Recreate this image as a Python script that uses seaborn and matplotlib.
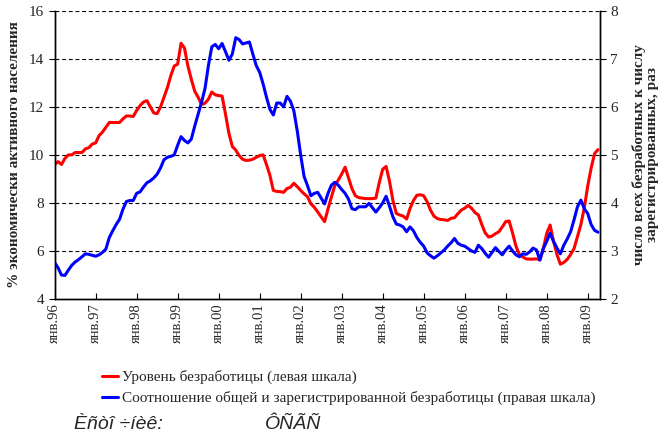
import matplotlib
matplotlib.use("Agg")
import matplotlib.pyplot as plt
import seaborn as sns
import pandas as pd
import numpy as np

# Monthly values, Jan 1996 .. Apr 2009
unemployment = [
    9.6, 9.72, 9.6, 9.85, 10.0, 10.0, 10.1, 10.1, 10.1, 10.25, 10.3, 10.45,
    10.5, 10.8, 10.95, 11.15, 11.35, 11.35, 11.35, 11.35, 11.5, 11.62, 11.62, 11.6,
    11.85, 12.05, 12.2, 12.26, 12.0, 11.75, 11.72, 12.0, 12.4, 12.8, 13.3, 13.7,
    13.78, 14.65, 14.45, 13.7, 13.15, 12.65, 12.4, 12.1, 12.15, 12.32, 12.62, 12.5,
    12.47, 12.45, 11.7, 10.9, 10.35, 10.2, 9.97, 9.82, 9.77, 9.78, 9.82, 9.9,
    9.97, 10.0, 9.6, 9.15, 8.52, 8.48, 8.47, 8.44, 8.6, 8.65, 8.82, 8.68,
    8.52, 8.38, 8.26, 7.96, 7.82, 7.62, 7.42, 7.22, 7.75, 8.25, 8.73, 8.95,
    9.2, 9.49, 9.05, 8.6, 8.3, 8.22, 8.2, 8.18, 8.18, 8.18, 8.2, 8.85,
    9.4, 9.52, 8.9, 8.1, 7.56, 7.5, 7.45, 7.33, 7.77, 8.1, 8.32, 8.34,
    8.3, 8.05, 7.7, 7.45, 7.35, 7.31, 7.3, 7.27, 7.36, 7.38, 7.55, 7.7,
    7.78, 7.9, 7.78, 7.6, 7.5, 7.1, 6.75, 6.58, 6.62, 6.72, 6.8, 7.0,
    7.22, 7.25, 6.75, 6.2, 5.85, 5.75, 5.67, 5.66, 5.66, 5.67, 5.63, 6.1,
    6.73, 7.08, 6.4, 5.85, 5.45, 5.52, 5.65, 5.85, 6.1, 6.6, 7.1, 7.8,
    8.7, 9.45, 10.05, 10.22,
]
ratio = [
    2.76, 2.65, 2.5, 2.49, 2.6, 2.7, 2.77, 2.82, 2.88, 2.94, 2.93, 2.91,
    2.89, 2.92, 2.97, 3.04, 3.28, 3.42, 3.55, 3.66, 3.87, 4.03, 4.05, 4.05,
    4.2, 4.23, 4.33, 4.42, 4.46, 4.52, 4.6, 4.73, 4.9, 4.95, 4.97, 5.0,
    5.2, 5.38, 5.3, 5.25, 5.33, 5.6, 5.85, 6.1, 6.38, 6.86, 7.25, 7.3,
    7.21, 7.32, 7.15, 6.97, 7.1, 7.44, 7.4, 7.31, 7.33, 7.35, 7.1, 6.86,
    6.72, 6.48, 6.2, 5.95, 5.83, 6.08, 6.08, 6.0, 6.22, 6.12, 5.92, 5.5,
    5.0, 4.55, 4.36, 4.15, 4.2, 4.22, 4.1, 3.98, 4.2, 4.37, 4.43, 4.37,
    4.28, 4.2, 4.08, 3.88, 3.86, 3.92, 3.92, 3.92, 3.99, 3.9, 3.81, 3.9,
    4.0, 4.14, 3.93, 3.71, 3.56, 3.54, 3.5, 3.4, 3.5, 3.42, 3.28, 3.18,
    3.1, 2.96, 2.9, 2.85, 2.9, 2.96, 3.02, 3.1, 3.17, 3.26, 3.16, 3.12,
    3.1, 3.05, 3.0, 2.97, 3.12, 3.05, 2.95, 2.87, 2.97, 3.07, 2.99, 2.92,
    3.02, 3.1, 3.0, 2.92, 2.88, 2.94, 2.93, 2.98, 3.06, 3.02, 2.81, 3.05,
    3.2, 3.37, 3.2, 3.06, 2.94, 3.12, 3.25, 3.4, 3.65, 3.92, 4.06, 3.88,
    3.78, 3.55, 3.43, 3.39,
]
year_labels = ["янв.%02d" % (y % 100) for y in range(1996, 2010)]
label_red = "Уровень безработицы (левая шкала)"
label_blue = "Соотношение общей и зарегистрированной безработицы (правая шкала)"

df = pd.DataFrame({
    "month": np.arange(len(unemployment)),
    "unemployment": unemployment,
    "ratio": ratio,
})

sns.set_style("ticks")
plt.rcParams["font.family"] = ["Liberation Serif", "DejaVu Serif"]

fig = plt.figure(figsize=(6.59, 4.41), dpi=100)
ax = fig.add_axes([0.0829, 0.322, 0.8276, 0.6535])
ax2 = ax.twinx()

sns.lineplot(data=df, x="month", y="unemployment", ax=ax, color="#ff0000",
             linewidth=2.2, label=label_red, legend=False)
sns.lineplot(data=df, x="month", y="ratio", ax=ax2, color="#0000ff",
             linewidth=2.2, label=label_blue, legend=False)

ax.set_xlim(0, 159.6)
ax.set_ylim(4, 16)
ax2.set_ylim(2, 8)
ax.set_yticks(range(4, 17, 2))
ax2.set_yticks(range(2, 9, 1))
ax.set_xticks(range(0, 157, 12))
ax.set_xticklabels(year_labels, rotation=90, fontsize=10.5)

# dashed gridlines on the left scale
for v in range(6, 17, 2):
    ax.axhline(v, color="black", linewidth=0.8, linestyle=(0, (3.5, 2.5)), zorder=0)

ax.tick_params(axis="y", labelsize=11, direction="out", length=4, color="black")
ax2.tick_params(axis="y", labelsize=11, direction="out", length=4, color="black")
ax.tick_params(axis="x", direction="in", length=4, color="black", pad=3)

for a in (ax, ax2):
    a.spines["top"].set_visible(False)
    for s in ("left", "right", "bottom"):
        a.spines[s].set_color("black")
        a.spines[s].set_linewidth(1.0)

ax.set_xlabel("")
ax.set_ylabel("% экономически активного населения", fontsize=11,
              fontweight="bold", va="center")
ax.yaxis.set_label_coords(-0.073, 0.5)
ax2.set_ylabel("число всех безработных к числу\nзарегистрированных, раз",
               fontsize=11, fontweight="bold", rotation=90, va="center",
               linespacing=1.05)
ax2.yaxis.set_label_coords(1.083, 0.5)

h1, l1 = ax.get_legend_handles_labels()
h2, l2 = ax2.get_legend_handles_labels()
fig.legend(h1 + h2, l1 + l2, loc="upper left", bbox_to_anchor=(0.145, 0.175),
           frameon=False, fontsize=11, handlelength=1.1, handletextpad=0.2,
           labelspacing=0.45, borderaxespad=0)

fig.text(0.113, 0.028, "Èñòî ÷íèê:", fontsize=14, style="italic",
         family="Liberation Sans")
fig.text(0.402, 0.028, "ÔÑÃÑ", fontsize=14, style="italic",
         family="Liberation Sans")

fig.savefig("out.png", dpi=100)
